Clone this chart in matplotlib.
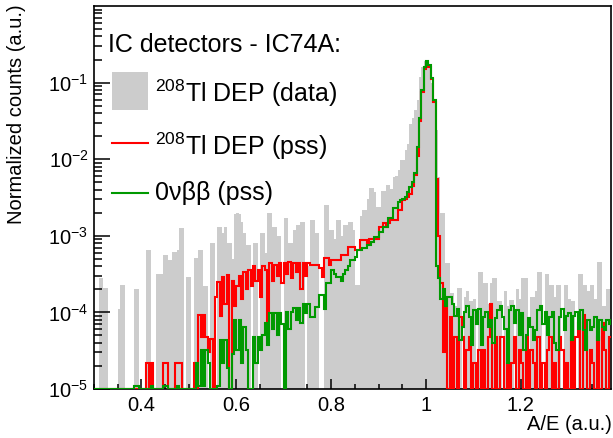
import numpy as np
import matplotlib
matplotlib.use("Agg")
import matplotlib.pyplot as plt
from matplotlib.patches import Rectangle
from matplotlib.lines import Line2D
from matplotlib.ticker import FixedLocator, MultipleLocator, LogLocator, NullFormatter, FuncFormatter, LogFormatterSciNotation

plt.rcParams['font.family'] = ['Liberation Sans', 'DejaVu Sans']
plt.rcParams['mathtext.fontset'] = 'custom'
plt.rcParams['mathtext.rm'] = 'Liberation Sans'
plt.rcParams['mathtext.it'] = 'Liberation Sans:italic'
plt.rcParams['mathtext.bf'] = 'Liberation Sans:bold'

# binning of the A/E histograms
ae_start = 0.30
bin_width = 0.005

# 208Tl DEP, data (normalized counts, one row = 0.05 in A/E)
data_dep = [
    0, 0, 2.8e-4, 2.8e-4, 2.1e-4, 2.1e-4, 0, 0, 0, 0,
    1.1e-4, 2.3e-4, 2.3e-4, 0, 0, 0, 0, 2e-4, 2e-4, 0,
    0, 0, 6.5e-4, 6.5e-4, 0, 0, 3.2e-4, 3.2e-4, 3.2e-4, 5.6e-4,
    5.6e-4, 4.9e-4, 4.9e-4, 6.2e-4, 6.2e-4, 6.5e-4, 1.26e-3, 1.26e-3, 0, 2.9e-4,
    2.9e-4, 0, 5.1e-4, 5.1e-4, 6.5e-4, 6.5e-4, 2.2e-4, 2.2e-4, 0, 8e-4,
    8e-4, 0, 1.3e-3, 1.3e-3, 1.1e-3, 1.3e-3, 8e-4, 8e-4, 5e-4, 1.9e-3,
    2e-3, 1.9e-3, 1.5e-3, 1.1e-3, 7.5e-4, 7.5e-4, 0, 8e-4, 8e-4, 0,
    1.1e-3, 1.1e-3, 6e-4, 2e-3, 2e-3, 1.3e-3, 1.3e-3, 1e-3, 1e-3, 0,
    1.7e-3, 1.7e-3, 8e-4, 8e-4, 1.2e-3, 1.4e-3, 1.4e-3, 1.5e-3, 1.5e-3, 0,
    4e-4, 1.6e-3, 1.6e-3, 1.1e-3, 1.1e-3, 0, 0, 2.5e-3, 2.5e-3, 1.2e-3,
    1.2e-3, 9e-4, 1.6e-3, 1.6e-3, 1e-3, 1.4e-3, 1.4e-3, 1.5e-3, 1.5e-3, 1.2e-3,
    2.3e-4, 2.3e-4, 1.8e-3, 2.2e-3, 2.2e-3, 3e-3, 4.2e-3, 4.2e-3, 3.7e-3, 2.4e-3,
    2.4e-3, 3.9e-3, 3.9e-3, 4.6e-3, 4.6e-3, 4.1e-3, 5.9e-3, 6e-3, 7.2e-3, 9.8e-3,
    9.8e-3, 1.3e-2, 1.6e-2, 2.9e-2, 3.5e-2, 4.4e-2, 6e-2, 1.2e-1, 1.6e-1, 1.9e-1,
    1.9e-1, 1.6e-1, 1e-1, 5.9e-2, 2.4e-2, 5.9e-3, 2e-3, 2e-3, 4.4e-4, 4.4e-4,
    1.8e-4, 1.8e-4, 1.2e-4, 2.1e-4, 2.1e-4, 0, 1.6e-4, 1.9e-4, 1.4e-4, 1.4e-4,
    1.5e-4, 0, 3.4e-4, 3.4e-4, 2.4e-4, 2.4e-4, 1.3e-4, 2.4e-4, 2.8e-4, 2.8e-4,
    1.4e-4, 1.4e-4, 0, 1.9e-4, 1.2e-4, 1.45e-4, 1.45e-4, 0, 2e-4, 1.5e-4,
    2.8e-4, 2.8e-4, 2.8e-4, 0, 1.6e-4, 1.6e-4, 1.9e-4, 3.4e-4, 3.4e-4, 0,
    3.2e-4, 3.2e-4, 2.3e-4, 2.3e-4, 1.6e-4, 2.3e-4, 2.3e-4, 0, 2.3e-4, 2.3e-4,
    1.5e-4, 1.4e-4, 1.4e-4, 0, 3.2e-4, 3.2e-4, 2.3e-4, 2.3e-4, 1.9e-4, 2.3e-4,
    2.3e-4, 1.5e-4, 4.6e-4, 4.6e-4, 1.2e-4, 1.2e-4, 2e-4, 2e-4, 0, 3e-4,
]

# 208Tl DEP, pulse shape simulation
pss_dep = [
    0, 0, 0, 0, 0, 0, 0, 0, 0, 0,
    0, 0, 0, 0, 0, 0, 0, 0, 0, 0,
    0, 0, 2.2e-5, 0, 2.2e-5, 0, 0, 0, 0, 2.2e-5,
    2.2e-5, 0, 0, 0, 2.2e-5, 2.2e-5, 2.2e-5, 0, 0, 0,
    0, 0, 2.2e-5, 0, 9.3e-5, 4.8e-5, 9.3e-5, 4.8e-5, 3e-5, 4.5e-5,
    0, 1.6e-4, 2.5e-4, 9e-5, 2.9e-4, 1.3e-4, 3.1e-4, 0, 2.6e-4, 1.2e-4,
    2.2e-4, 3e-4, 1.5e-4, 3.4e-4, 2e-4, 3.6e-4, 2.2e-4, 4e-4, 2.6e-4, 3.6e-4,
    1.6e-4, 4e-4, 3.6e-4, 5.5e-5, 4.4e-4, 2.6e-4, 4.2e-4, 3e-4, 4.4e-4, 2.4e-4,
    4.4e-4, 3.2e-4, 4.6e-4, 2.8e-4, 4.4e-4, 3.4e-4, 4.4e-4, 2e-4, 4.4e-4, 3e-4,
    4.4e-4, 4.2e-4, 4.2e-4, 4.2e-4, 4.2e-4, 3.8e-4, 2.9e-4, 5.1e-4, 5.1e-4, 4.2e-4,
    4.8e-4, 4.8e-4, 4.8e-4, 4.8e-4, 5.6e-4, 5.6e-4, 5.6e-4, 7.2e-4, 7.2e-4, 7.2e-4,
    6.5e-4, 6.5e-4, 8.8e-4, 8.8e-4, 8.8e-4, 7.6e-4, 9.2e-4, 9.2e-4, 9.2e-4, 9.2e-4,
    1.3e-3, 1.3e-3, 1.47e-3, 1.3e-3, 1.47e-3, 1.6e-3, 1.6e-3, 1.6e-3, 2.2e-3, 2.2e-3,
    2.9e-3, 3e-3, 3.2e-3, 3.5e-3, 4.5e-3, 6.2e-3, 1.1e-2, 3.2e-2, 7.5e-2, 1.5e-1,
    1.8e-1, 1.6e-1, 1.1e-1, 5.5e-2, 5.5e-3, 1e-3, 2.4e-4, 3e-5, 1.4e-4, 0,
    8.8e-5, 0, 4.8e-5, 0, 8.7e-5, 4.8e-5, 0, 3.2e-5, 4.8e-5, 0,
    2.2e-5, 0, 3.2e-5, 0, 3.2e-5, 0, 4.8e-5, 1.3e-4, 0, 4.8e-5,
    0, 4.8e-5, 4.8e-5, 0, 2.2e-5, 0, 2.2e-5, 4.8e-5, 0, 3.2e-5,
    2.2e-5, 0, 4.8e-5, 0, 3.2e-5, 2.2e-5, 0, 4.8e-5, 0, 2.2e-5,
    0, 3.2e-5, 4.8e-5, 0, 2.2e-5, 0, 4.8e-5, 3.2e-5, 0, 2.2e-5,
    0, 4.8e-5, 0, 4.8e-5, 7.2e-5, 0, 9.3e-5, 4.8e-5, 0, 3.2e-5,
    2.2e-5, 0, 4.8e-5, 0, 7.2e-5, 3.2e-5, 0, 4.8e-5, 4.8e-5, 0,
]

# 0vbb, pulse shape simulation
pss_0nbb = [
    0, 0, 0, 0, 0, 0, 0, 0, 0, 0,
    0, 0, 0, 0, 0, 0, 0, 1.1e-5, 1.1e-5, 0,
    0, 0, 0, 0, 1.1e-5, 0, 0, 0, 0, 1.1e-5,
    1.1e-5, 0, 0, 0, 0, 1.1e-5, 0, 0, 0, 0,
    0, 0, 0, 2.2e-5, 1.1e-5, 3.2e-5, 1.1e-5, 3.2e-5, 2.2e-5, 0,
    0, 0, 1.1e-5, 4.4e-5, 2.2e-5, 4.4e-5, 1.9e-5, 0, 2.9e-5, 8e-5,
    3.2e-5, 8e-5, 2.2e-5, 6.5e-5, 3.2e-5, 0, 0, 4.8e-5, 2.2e-5, 4.8e-5,
    3.2e-5, 5e-5, 7.2e-5, 3.8e-5, 9.8e-5, 6e-5, 9.8e-5, 5e-5, 9.8e-5, 7e-5,
    0, 1e-4, 6e-5, 1e-4, 1.14e-4, 8e-5, 1.14e-4, 7.2e-5, 1.3e-4, 9.7e-5,
    1.3e-4, 8.8e-5, 8.8e-5, 1.18e-4, 1.18e-4, 1.7e-4, 1.7e-4, 1.1e-4, 2.4e-4, 2.4e-4,
    3.6e-4, 3.2e-4, 2.9e-4, 2.9e-4, 2.6e-4, 3.2e-4, 3.6e-4, 4e-4, 4.8e-4, 4.8e-4,
    5.3e-4, 6.5e-4, 6.5e-4, 6.9e-4, 6.9e-4, 7.6e-4, 7.6e-4, 8.4e-4, 9.7e-4, 9.7e-4,
    1.13e-3, 1.13e-3, 1.3e-3, 1.3e-3, 1.7e-3, 1.7e-3, 2.3e-3, 2.3e-3, 2.8e-3, 2.9e-3,
    3e-3, 3.2e-3, 3.7e-3, 4.3e-3, 5e-3, 6.6e-3, 1.45e-2, 3.5e-2, 8e-2, 1.6e-1,
    1.9e-1, 1.7e-1, 1.15e-1, 5.9e-2, 4e-4, 2.8e-4, 1.5e-4, 2e-4, 1.2e-4, 1.6e-4,
    1.6e-4, 1.3e-4, 9e-5, 1.1e-4, 4.4e-5, 6.5e-5, 1e-4, 1.2e-4, 8.8e-5, 3.8e-5,
    1.07e-4, 7e-5, 1.1e-4, 3.75e-5, 8.8e-5, 1e-4, 6.5e-5, 7.9e-5, 4e-5, 8.4e-5,
    1.07e-4, 1.2e-4, 8.8e-5, 6e-5, 2.2e-5, 1.07e-4, 1.2e-4, 7.2e-5, 1.07e-4, 5e-5,
    9.8e-5, 3.2e-5, 5e-5, 8.5e-5, 6.5e-5, 4.4e-5, 5.9e-5, 1.07e-4, 1.2e-4, 7e-5,
    1e-4, 5e-5, 8.8e-5, 1e-4, 4e-5, 3.2e-5, 8.8e-5, 1.1e-4, 5.9e-5, 9e-5,
    9.8e-5, 4.4e-5, 9e-5, 1e-4, 6e-5, 1.07e-4, 5.9e-5, 3.2e-5, 8e-5, 5.9e-5,
    6.5e-5, 8.8e-5, 4.4e-5, 8e-5, 6.5e-5, 5.9e-5, 8e-5, 7e-5, 8e-5, 8e-5,
]

x_ticks = [0.4, 0.6, 0.8, 1.0, 1.2]
y_ticks = [1e-5, 1e-4, 1e-3, 1e-2, 1e-1]
y_floor = 1e-5

edges = ae_start + bin_width * np.arange(len(data_dep) + 1)
data_dep = np.array(data_dep)
pss_dep = np.array(pss_dep)
pss_0nbb = np.array(pss_0nbb)

W, H = 613, 438
fig = plt.figure(figsize=(W / 100, H / 100), dpi=100)
ax = fig.add_axes([94 / W, 49 / H, 517 / W, 383 / H])
ax.set_yscale('log')

# data as filled grey histogram (empty bins left white)
ax.stairs(np.where(data_dep > 0, data_dep, 1e-8), edges, baseline=1e-8,
          fill=True, color='#cccccc', lw=0, zorder=1)
# simulations as step lines, empty bins sit on the lower frame
ax.stairs(np.maximum(pss_dep, y_floor), edges, baseline=None,
          color='#ff0000', lw=1.5, zorder=3)
ax.stairs(np.maximum(pss_0nbb, y_floor), edges, baseline=None,
          color='#009900', lw=1.5, zorder=4)

ax.set_xlim(0.30, 1.39)
ax.set_ylim(1e-5, 1)
ax.set_axisbelow(False)

ax.xaxis.set_major_locator(FixedLocator(x_ticks))
ax.xaxis.set_minor_locator(MultipleLocator(0.05))
ax.xaxis.set_major_formatter(FuncFormatter(lambda v, p: f"{v:g}"))
ax.yaxis.set_major_locator(FixedLocator(y_ticks))
ax.yaxis.set_major_formatter(LogFormatterSciNotation())
ax.yaxis.set_minor_locator(LogLocator(base=10, subs=np.arange(2, 10), numticks=20))
ax.yaxis.set_minor_formatter(NullFormatter())

ax.tick_params(which='both', direction='in', top=False, right=False,
               labelsize=14.5, colors='black', width=1.1)
ax.tick_params(axis='x', which='major', length=7.5, pad=5)
ax.tick_params(axis='x', which='minor', length=3.8)
ax.tick_params(axis='y', which='major', length=11.5, pad=4)
ax.tick_params(axis='y', which='minor', length=6)
for sp in ax.spines.values():
    sp.set_linewidth(1.2)

# axis titles, ROOT style (aligned to the end of the axis)
fig.text(612 / W, 1 - 425 / H, "A/E (a.u.)", ha='right', va='center', fontsize=14.5)
fig.text(17 / W, 1 - 4 / H, "Normalized counts (a.u.)", ha='center', va='top',
         rotation=90, fontsize=14.5)


def fpos(x, y):
    return x / W, 1 - y / H


# legend
fs_leg = 18
fig.text(*fpos(108, 45), "IC detectors - IC74A:", ha='left', va='center', fontsize=fs_leg)
x0, y0 = fpos(112, 110)
fig.add_artist(Rectangle((x0, y0), 36 / W, 38 / H, transform=fig.transFigure,
                         facecolor='#cccccc', edgecolor='none'))
fig.text(*fpos(155, 93), r"$^{208}$Tl DEP (data)", ha='left', va='center', fontsize=fs_leg)
fig.add_artist(Line2D([112 / W, 148 / W], [1 - 143 / H] * 2, transform=fig.transFigure,
                      color='#ff0000', lw=1.5))
fig.text(*fpos(155, 146), r"$^{208}$Tl DEP (pss)", ha='left', va='center', fontsize=fs_leg)
fig.add_artist(Line2D([112 / W, 148 / W], [1 - 193 / H] * 2, transform=fig.transFigure,
                      color='#009900', lw=1.5))
fig.text(*fpos(155, 193), "0νββ (pss)", ha='left', va='center', fontsize=fs_leg)

fig.savefig("out.png", dpi=100)
